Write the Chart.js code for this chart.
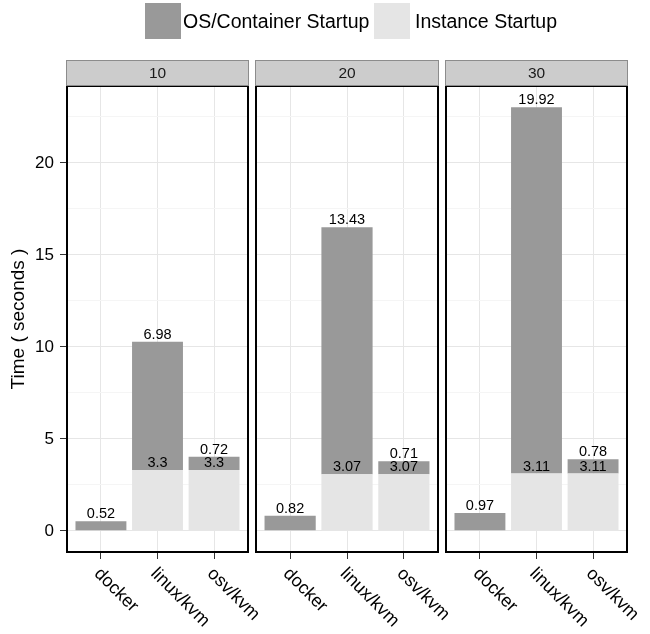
<!DOCTYPE html>
<html>
<head>
<meta charset="utf-8">
<script src="https://cdn.jsdelivr.net/npm/chart.js@4/dist/chart.umd.min.js"></script>
<style>
  html, body { margin: 0; padding: 0; background: #ffffff; }
  #wrap { position: relative; width: 650px; height: 634px; overflow: hidden; font-family: "Liberation Sans", Arial, sans-serif; }
  canvas { position: absolute; left: 0; top: 0; }
  .key { position: absolute; top: 3px; width: 36px; height: 36px; box-sizing: border-box; }
  .ltext { position: absolute; top: 9px; font-size: 19.5px; line-height: 24px; color: #000; white-space: nowrap; }
</style>
</head>
<body>
<div id="wrap">
  <canvas id="c1" width="650" height="634"></canvas>
  <canvas id="c2" width="650" height="634"></canvas>
  <canvas id="c3" width="650" height="634"></canvas>
  <div class="key" style="left:145px;background:#999999;"></div>
  <div class="ltext" style="left:183px;">OS/Container Startup</div>
  <div class="key" style="left:374px;background:#e5e5e5;"></div>
  <div class="ltext" style="left:415px;">Instance Startup</div>
</div>
<script>
// ---- data ----
const facetLabels = ['10', '20', '30'];
const platforms = ['docker', 'linux/kvm', 'osv/kvm'];
const osStartup10 = [0.52, 6.98, 0.72];
const osStartup20 = [0.82, 13.43, 0.71];
const osStartup30 = [0.97, 19.92, 0.78];
const instStartup10 = [null, 3.3, 3.3];
const instStartup20 = [null, 3.07, 3.07];
const instStartup30 = [null, 3.11, 3.11];
const yMajorTicks = [0, 5, 10, 15, 20];
const yMinorTicks = [2.5, 7.5, 12.5, 17.5, 22.5];
const seriesNames = ['OS/Container Startup', 'Instance Startup'];

const osAll = [osStartup10, osStartup20, osStartup30];
const instAll = [instStartup10, instStartup20, instStartup30];

// ggplot-like y range (5% expansion of data range)
let dataMax = 0;
for (let f = 0; f < 3; f++) {
  for (let i = 0; i < platforms.length; i++) {
    dataMax = Math.max(dataMax, (instAll[f][i] || 0) + osAll[f][i]);
  }
}
const yMin = -dataMax * 0.05, yMax = dataMax * 1.05;

const FONT = '"Liberation Sans", Arial, sans-serif';
const DARK = '#999999', LIGHT = '#e5e5e5';
const GRID_MAJOR = '#e6e6e6', GRID_MINOR = '#f5f5f5';

// panel geometry (chart area placement)
const panels = [
  { left: 67, right: 248 },
  { left: 256, right: 438 },
  { left: 446, right: 627 }
];
const PANEL_TOP = 86, PANEL_BOTTOM = 552, STRIP_TOP = 60;
const W = 650, H = 634;

const panelPlugin = {
  id: 'panelDeco',
  afterDatasetsDraw(chart) {
    const ctx = chart.ctx;
    const ca = chart.chartArea;
    // value labels
    ctx.save();
    ctx.font = '14.5px ' + FONT;
    ctx.fillStyle = '#000';
    ctx.textAlign = 'center';
    ctx.textBaseline = 'alphabetic';
    const instMeta = chart.getDatasetMeta(0);
    const osMeta = chart.getDatasetMeta(1);
    const instData = chart.data.datasets[0].data;
    const osData = chart.data.datasets[1].data;
    osMeta.data.forEach((el, i) => {
      const v = osData[i].y;
      if (v != null) ctx.fillText(String(v), el.x, el.y - 3);
    });
    instMeta.data.forEach((el, i) => {
      const v = instData[i].y;
      if (v != null) ctx.fillText(String(v), el.x, el.y - 3);
    });
    ctx.restore();
    // panel border
    ctx.save();
    ctx.strokeStyle = '#000';
    ctx.lineWidth = 2;
    ctx.strokeRect(ca.left, ca.top, ca.right - ca.left, ca.bottom - ca.top);
    ctx.restore();
  },
  afterDraw(chart) {
    const ctx = chart.ctx;
    const ca = chart.chartArea;
    const idx = chart.options.plugins.panelDeco.index;
    // strip
    ctx.save();
    ctx.fillStyle = '#cccccc';
    ctx.fillRect(ca.left - 1, STRIP_TOP, ca.right - ca.left + 2, ca.top - STRIP_TOP);
    ctx.strokeStyle = '#8c8c8c';
    ctx.lineWidth = 1;
    ctx.strokeRect(ca.left - 0.5, STRIP_TOP + 0.5, ca.right - ca.left + 1, ca.top - STRIP_TOP - 1);
    ctx.fillStyle = '#1a1a1a';
    ctx.font = '15.5px ' + FONT;
    ctx.textAlign = 'center';
    ctx.textBaseline = 'middle';
    ctx.fillText(facetLabels[idx], (ca.left + ca.right) / 2, (STRIP_TOP + ca.top) / 2 + 1);
    ctx.restore();
    // rotated x tick labels (clockwise 45deg, starting at tick)
    const xs = chart.scales.x;
    ctx.save();
    ctx.font = '18px ' + FONT;
    ctx.fillStyle = '#000';
    ctx.textAlign = 'left';
    ctx.textBaseline = 'middle';
    platforms.forEach((p, i) => {
      const px = xs.getPixelForValue(i);
      ctx.save();
      ctx.translate(px - 4, ca.bottom + 19);
      ctx.rotate(Math.PI / 4);
      ctx.fillText(p, 0, 0);
      ctx.restore();
    });
    ctx.restore();
  }
};

function makeChart(canvasId, f) {
  const first = f === 0;
  const p = panels[f];
  const instData = platforms.map((_, i) => ({ x: i, y: instAll[f][i] }));
  const osData = platforms.map((_, i) => ({ x: i, y: osAll[f][i] }));
  return new Chart(document.getElementById(canvasId), {
    type: 'bar',
    data: {
      datasets: [
        { label: seriesNames[1], data: instData, backgroundColor: LIGHT, borderWidth: 0,
          categoryPercentage: 0.9, barPercentage: 1.0 },
        { label: seriesNames[0], data: osData, backgroundColor: DARK, borderWidth: 0,
          categoryPercentage: 0.9, barPercentage: 1.0 }
      ]
    },
    options: {
      responsive: false,
      animation: false,
      devicePixelRatio: 1,
      layout: { padding: { left: first ? 0 : p.left, right: W - p.right, top: PANEL_TOP, bottom: 0 } },
      plugins: {
        legend: { display: false },
        tooltip: { enabled: false },
        title: { display: false },
        panelDeco: { index: f }
      },
      scales: {
        x: {
          type: 'linear',
          stacked: true,
          min: -0.6,
          max: platforms.length - 1 + 0.6,
          offset: false,
          afterBuildTicks: (s) => { s.ticks = platforms.map((_, i) => ({ value: i })); },
          afterFit: (s) => { s.height = H - PANEL_BOTTOM; },
          ticks: { display: false },
          border: { display: false },
          grid: {
            offset: false,
            color: GRID_MAJOR,
            lineWidth: 1,
            drawTicks: true,
            tickLength: 7,
            tickColor: '#333333',
            tickWidth: 1
          }
        },
        y: {
          type: 'linear',
          stacked: true,
          min: yMin,
          max: yMax,
          afterBuildTicks: (s) => {
            s.ticks = yMajorTicks.concat(yMinorTicks).sort((a, b) => a - b).map(v => ({ value: v }));
          },
          afterFit: (s) => { s.width = first ? p.left : 0; },
          border: { display: false },
          grid: {
            color: (c) => (c.tick && yMajorTicks.includes(c.tick.value)) ? GRID_MAJOR : GRID_MINOR,
            lineWidth: 1,
            drawTicks: first,
            tickLength: 7,
            tickColor: (c) => (c.tick && yMajorTicks.includes(c.tick.value)) ? '#333333' : 'rgba(0,0,0,0)',
            tickWidth: 1
          },
          ticks: {
            display: first,
            padding: 6,
            color: '#000',
            font: { family: FONT, size: 17 },
            callback: (v) => yMajorTicks.includes(v) ? String(v) : ''
          },
          title: {
            display: first,
            text: 'Time ( seconds )',
            color: '#000',
            font: { family: FONT, size: 19 },
            padding: { top: 7, bottom: 0 }
          }
        }
      }
    },
    plugins: [panelPlugin]
  });
}

makeChart('c1', 0);
makeChart('c2', 1);
makeChart('c3', 2);
</script>
</body>
</html>
